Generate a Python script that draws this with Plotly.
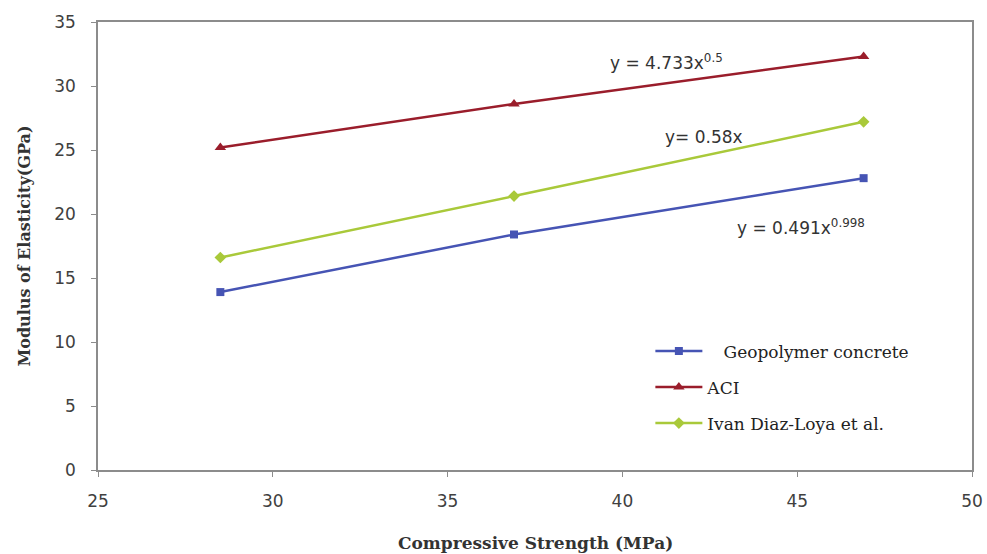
import plotly.graph_objects as go

strength = [28.5, 36.9, 46.9]
geopolymer = [13.9, 18.4, 22.8]
aci = [25.2, 28.6, 32.3]
diaz_loya = [16.6, 21.4, 27.2]

series_names = ["Geopolymer concrete", "ACI", "Ivan Diaz-Loya et al."]
equations = ["y = 0.491x<sup>0.998</sup>", "y = 4.733x<sup>0.5</sup>", "y= 0.58x"]
eq_pos_x = [45.1, 41.25, 42.33]
eq_pos_y = [19.0, 31.9, 26.0]
x_title = "Compressive Strength (MPa)"
y_title = "Modulus of Elasticity(GPa)"

colors = ["#4654b4", "#9a1d2b", "#a9c93a"]
symbols = ["square", "triangle-up", "diamond"]
sizes = [8, 10, 9]
values = [geopolymer, aci, diaz_loya]
labels = ["   " + series_names[0], series_names[1], series_names[2]]

fig = go.Figure()
for i in range(3):
    fig.add_trace(go.Scatter(x=strength, y=values[i], name=labels[i], mode="lines+markers",
                             legendgroup=str(i),
                             line=dict(color=colors[i], width=2.5),
                             marker=dict(symbol=symbols[i], size=sizes[i], color=colors[i])))

for t, ex, ey in zip(equations, eq_pos_x, eq_pos_y):
    fig.add_annotation(x=ex, y=ey, text=t, showarrow=False,
                       font=dict(family="DejaVu Sans, sans-serif", size=17, color="#333333"))

fig.add_annotation(xref="paper", yref="paper", x=0.5, y=-0.163, yanchor="middle",
                   text="<b>" + x_title + "</b>", showarrow=False,
                   font=dict(family="DejaVu Serif, serif", size=17, color="#333333"))

tickfont = dict(family="DejaVu Sans, Verdana, sans-serif", size=17, color="#404040")
fig.update_layout(
    width=987, height=554,
    margin=dict(l=98, r=15, t=22, b=84),
    paper_bgcolor="white", plot_bgcolor="white",
    showlegend=True,
    legend=dict(x=0.632, y=0.305, xanchor="left", yanchor="top",
                bgcolor="rgba(0,0,0,0)",
                font=dict(family="DejaVu Serif, serif", size=17, color="#222222"),
                tracegroupgap=11, itemwidth=47),
    xaxis=dict(range=[25, 50], dtick=5, showgrid=False, zeroline=False,
               showline=True, mirror=True, linecolor="#8c8c8c", linewidth=1.5,
               ticks="outside", ticklen=5, tickcolor="#8c8c8c",
               ticklabelstandoff=10, automargin=False,
               tickfont=tickfont),
    yaxis=dict(range=[0, 35], dtick=5, showgrid=False, zeroline=False,
               showline=True, mirror=True, linecolor="#8c8c8c", linewidth=1.5,
               ticks="outside", ticklen=5, tickcolor="#8c8c8c",
               ticklabelstandoff=12,
               tickfont=tickfont,
               title=dict(text="<b>" + y_title + "</b>", standoff=20,
                          font=dict(family="DejaVu Serif, serif", size=16, color="#333333"))),
)

fig.write_html("out.html")
